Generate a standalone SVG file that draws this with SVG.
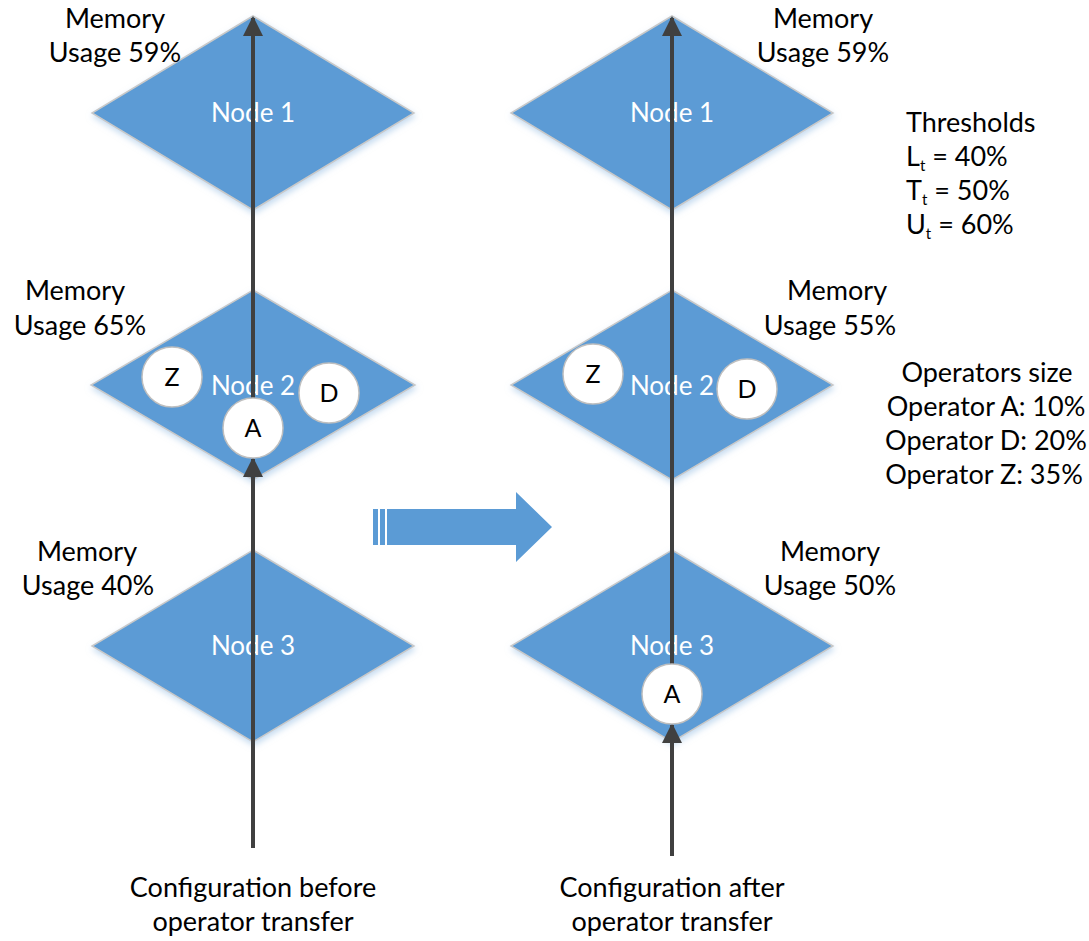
<svg xmlns="http://www.w3.org/2000/svg" width="1089" height="941" viewBox="0 0 1089 941">
<style>
.d{fill:#5B9BD5;stroke:#c9c9c9;stroke-width:1.5;filter:url(#sh)}
.nl{font-family:Lato,"Liberation Sans",sans-serif;font-size:26px;fill:#ffffff;text-anchor:middle}
.t{font-family:Lato,"Liberation Sans",sans-serif;font-size:27px;fill:#000000}
.c{text-anchor:middle}
.op{fill:#ffffff;stroke:#bfbfbf;stroke-width:1.5}
.ol{font-family:Lato,"Liberation Sans",sans-serif;font-size:25px;fill:#000000;text-anchor:middle}
.ln{stroke:#404040;stroke-width:4;fill:none;marker-end:url(#ah)}
.sub{font-size:15px}
</style>
<defs>
<filter id="sh" x="-10%" y="-10%" width="130%" height="130%">
<feDropShadow dx="1" dy="3" stdDeviation="3" flood-color="#9dc3e6" flood-opacity="0.6"/>
</filter>
<marker id="ah" viewBox="0 0 10 10" refX="9" refY="5" markerWidth="5.5" markerHeight="5" orient="auto" markerUnits="strokeWidth">
<path d="M0,0 L10,5 L0,10 Z" fill="#404040"/>
</marker>
</defs>
<g id="left-node1"><polygon class="d" points="253,16 414,113 253,210 92,113"/><text class="nl" x="253" y="122">Node 1</text></g>
<g id="left-node2"><polygon class="d" points="253,290 415,385 253,480 91,385"/><text class="nl" x="253" y="395">Node 2</text></g>
<g id="left-node3"><polygon class="d" points="253,550 414,646 253,742 92,646"/><text class="nl" x="253" y="655">Node 3</text></g>
<g id="right-node1"><polygon class="d" points="672,16 833,113 672,210 511,113"/><text class="nl" x="672" y="122">Node 1</text></g>
<g id="right-node2"><polygon class="d" points="672,290 833,385 672,480 511,385"/><text class="nl" x="672" y="395">Node 2</text></g>
<g id="right-node3"><polygon class="d" points="672,550 833,646 672,742 511,646"/><text class="nl" x="672" y="655">Node 3</text></g>
<g id="connectors">
<line class="ln" x1="253" y1="848" x2="253" y2="459"/>
<line class="ln" x1="253" y1="398" x2="253" y2="18"/>
<line class="ln" x1="672" y1="856" x2="672" y2="725"/>
<line class="ln" x1="672" y1="664" x2="672" y2="18"/>
</g>
<g id="left-op-Z"><circle class="op" cx="172" cy="377" r="30"/><text class="ol" x="172" y="386">Z</text></g>
<g id="left-op-D"><circle class="op" cx="329" cy="393" r="30"/><text class="ol" x="329" y="402">D</text></g>
<g id="left-op-A"><circle class="op" cx="253" cy="428" r="30"/><text class="ol" x="253" y="437">A</text></g>
<g id="right-op-Z"><circle class="op" cx="593" cy="374" r="30"/><text class="ol" x="593" y="383">Z</text></g>
<g id="right-op-D"><circle class="op" cx="747" cy="389" r="30"/><text class="ol" x="747" y="398">D</text></g>
<g id="right-op-A"><circle class="op" cx="672" cy="694" r="30"/><text class="ol" x="672" y="703">A</text></g>
<g id="transfer-arrow" fill="#5B9BD5">
<rect x="373" y="509" width="5" height="36"/>
<rect x="380" y="509" width="5" height="36"/>
<polygon points="387,509 516,509 516,492 552,527 516,562 516,545 387,545"/>
</g>
<g id="labels">
<text class="t c" x="115" y="28">Memory</text><text class="t c" x="115" y="62">Usage 59%</text>
<text class="t c" x="823" y="28">Memory</text><text class="t c" x="823" y="62">Usage 59%</text>
<text class="t c" x="75" y="300">Memory</text><text class="t c" x="80" y="335">Usage 65%</text>
<text class="t c" x="837" y="300">Memory</text><text class="t c" x="830" y="335">Usage 55%</text>
<text class="t c" x="87" y="561">Memory</text><text class="t c" x="88" y="595">Usage 40%</text>
<text class="t c" x="830" y="561">Memory</text><text class="t c" x="830" y="595">Usage 50%</text>
<text class="t" x="906" y="132">Thresholds</text>
<text class="t" x="906" y="166">L<tspan class="sub" dy="5">t</tspan><tspan dy="-5"> = 40%</tspan></text>
<text class="t" x="906" y="200">T<tspan class="sub" dy="5">t</tspan><tspan dy="-5"> = 50%</tspan></text>
<text class="t" x="906" y="234">U<tspan class="sub" dy="5">t</tspan><tspan dy="-5"> = 60%</tspan></text>
<text class="t c" x="987" y="382">Operators size</text>
<text class="t c" x="986" y="416">Operator A: 10%</text>
<text class="t c" x="986" y="450">Operator D: 20%</text>
<text class="t c" x="984" y="484">Operator Z: 35%</text>
<text class="t c" x="253" y="897">Configuration before</text>
<text class="t c" x="253" y="931">operator transfer</text>
<text class="t c" x="672" y="897">Configuration after</text>
<text class="t c" x="672" y="931">operator transfer</text>
</g>
</svg>
